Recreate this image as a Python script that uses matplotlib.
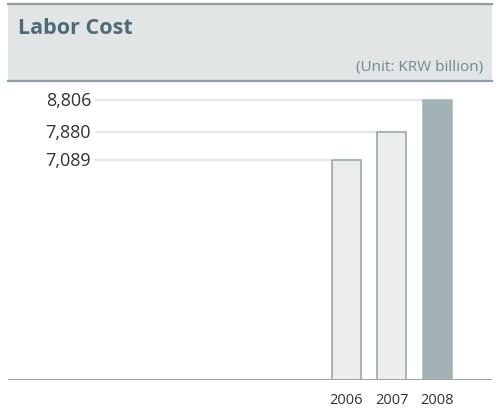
import matplotlib
matplotlib.use("Agg")
from matplotlib import pyplot as plt
from matplotlib.patches import Rectangle

# labor cost, KRW billion
years = ["2006", "2007", "2008"]
costs = [7089, 7880, 8806]
labels = ["7,089", "7,880", "8,806"]

W, H = 498, 414
fig = plt.figure(figsize=(W / 100, H / 100), dpi=100)
plt.rcParams['font.family'] = ['Open Sans', 'DejaVu Sans']

# header band
band = Rectangle((8 / W, 1 - 82 / H), 484 / W, 77 / H, transform=fig.transFigure,
                 facecolor="#e1e5e6", edgecolor="none")
fig.patches.append(band)
for yy in (5, 82):
    fig.add_artist(plt.Line2D([8 / W, 492 / W], [1 - yy / H, 1 - yy / H],
                              transform=fig.transFigure, color="#8ea0a5", lw=1.6))
fig.text(18 / W, 1 - 28 / H, "Labor Cost", fontsize=15.5, fontweight="bold",
         color="#4d6a75", va="center", ha="left")
fig.text(483 / W, 1 - 67 / H, "(Unit: KRW billion)", fontsize=11, color="#71878e",
         va="center", ha="right")

# plot area: baseline at y=381px
bottom = 1 - 381 / H
top = 1 - 90 / H
ax = fig.add_axes([8 / W, bottom, 484 / W, top - bottom])
step = 45.7
ax.set_xlim(-(346 - 8) / step, 2 + (492 - 437.5) / step)
ax.set_ylim(750, 9120)

x = list(range(len(years)))
bw = 29 / step
face = ["#eceeee", "#eceeee", "#a3b2b5"]
edge = ["#8fa4a8", "#8fa4a8", "#a3b2b5"]
ax.bar(x, costs, width=bw, color=face, edgecolor=edge, linewidth=1.1, zorder=3)

# guide lines from labels to each bar
xl = (95 - 346) / step
for i, (v, lab) in enumerate(zip(costs, labels)):
    ax.plot([xl, i - bw / 2], [v, v], color="#e3e7e7", lw=1.6, zorder=1,
            solid_capstyle="butt")
    ax.text(xl - 4 / step, v, lab, ha="right", va="center", fontsize=13,
            color="#333333")

ax.axhline(750, color="#93a5a9", lw=1.4, zorder=4)

ax.set_xticks(x)
ax.set_xticklabels(years, fontsize=10.5, color="#333333")
ax.tick_params(axis="x", length=0, pad=9)
ax.set_yticks([])
for s in ax.spines.values():
    s.set_visible(False)
ax.patch.set_alpha(0)

fig.savefig("out.png", dpi=100)
